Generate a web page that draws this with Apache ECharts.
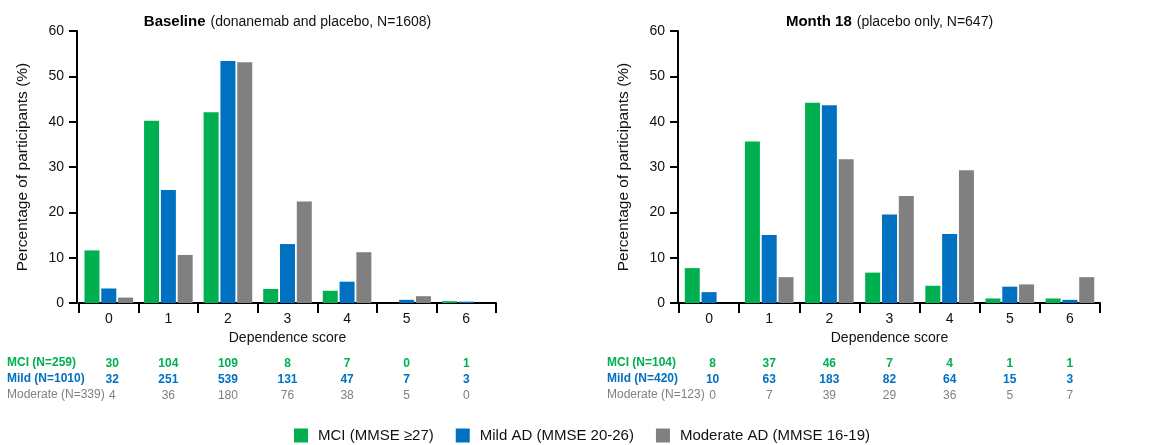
<!DOCTYPE html>
<html>
<head>
<meta charset="utf-8">
<script src="https://cdn.jsdelivr.net/npm/echarts@6/dist/echarts.min.js"></script>
<style>html,body{margin:0;padding:0;background:#fff;}#c{width:1153px;height:445px;}</style>
</head>
<body>
<div id="c"></div>
<script>
// ---- data ----
const categories = ['0', '1', '2', '3', '4', '5', '6'];
const seriesNames = ['MCI (MMSE \u226527)', 'Mild AD (MMSE 20-26)', 'Moderate AD (MMSE 16-19)'];
const panelTitlesBold = ['Baseline', 'Month 18'];
const panelTitlesNormal = ['(donanemab and placebo, N=1608)', '(placebo only, N=647)'];
const yTicks = [0, 10, 20, 30, 40, 50, 60];

// percentages
const baselineMCI = [11.6, 40.2, 42.1, 3.1, 2.7, 0, 0.4];
const baselineMild = [3.2, 24.9, 53.4, 13.0, 4.7, 0.7, 0.3];
const baselineModerate = [1.2, 10.6, 53.1, 22.4, 11.2, 1.5, 0];
const month18MCI = [7.7, 35.6, 44.2, 6.7, 3.8, 1.0, 1.0];
const month18Mild = [2.4, 15.0, 43.6, 19.5, 15.2, 3.6, 0.7];
const month18Moderate = [0, 5.7, 31.7, 23.6, 29.3, 4.1, 5.7];

// participant counts table
const baselineRowLabels = ['MCI (N=259)', 'Mild (N=1010)', 'Moderate (N=339)'];
const baselineCountsMCI = [30, 104, 109, 8, 7, 0, 1];
const baselineCountsMild = [32, 251, 539, 131, 47, 7, 3];
const baselineCountsModerate = [4, 36, 180, 76, 38, 5, 0];
const month18RowLabels = ['MCI (N=104)', 'Mild (N=420)', 'Moderate (N=123)'];
const month18CountsMCI = [8, 37, 46, 7, 4, 1, 1];
const month18CountsMild = [10, 63, 183, 82, 64, 15, 3];
const month18CountsModerate = [0, 7, 39, 29, 36, 5, 7];

// ---- styling ----
const FONT = '"Liberation Sans", Arial, Helvetica, sans-serif';
const colors = ['#00B050', '#0070C0', '#808080'];
const rowWeights = ['bold', 'bold', 'normal'];

const grids = [
  { left: 79, top: 31, width: 417, height: 272 },
  { left: 679, top: 31, width: 421, height: 272 }
];
const yOffsets = [2, 1];
const rowLabelX = [7, 607];
const rowOffsets = [61, 77, 93];

const panels = [
  { values: [baselineMCI, baselineMild, baselineModerate],
    counts: [baselineCountsMCI, baselineCountsMild, baselineCountsModerate],
    rowLabels: baselineRowLabels },
  { values: [month18MCI, month18Mild, month18Moderate],
    counts: [month18CountsMCI, month18CountsMild, month18CountsModerate],
    rowLabels: month18RowLabels }
];

const xAxes = [], yAxes = [], series = [], titles = [], graphics = [];
panels.forEach((p, gi) => {
  const g = grids[gi];
  const mainIndex = xAxes.length;
  xAxes.push({
    type: 'category', gridIndex: gi, data: categories, position: 'bottom',
    name: 'Dependence score', nameLocation: 'middle', nameGap: 28,
    nameTextStyle: { fontFamily: FONT, fontSize: 14, color: '#111' },
    axisLine: { show: true, lineStyle: { color: '#000', width: 2 } },
    axisTick: { show: true, length: 10, lineStyle: { color: '#000', width: 2 } },
    axisLabel: { fontFamily: FONT, fontSize: 14, color: '#111', margin: 9 },
    splitLine: { show: false }
  });
  p.counts.forEach((cnt, ri) => {
    xAxes.push({
      type: 'category', gridIndex: gi, data: categories, position: 'bottom',
      offset: rowOffsets[ri],
      axisLine: { show: false }, axisTick: { show: false }, splitLine: { show: false },
      axisLabel: {
        margin: 0, verticalAlign: 'middle', interval: 0,
        fontFamily: FONT, fontSize: 12, fontWeight: rowWeights[ri], color: colors[ri],
        formatter: (v, i) => i === 0 ? '{f|' + cnt[i] + '}' : String(cnt[i]),
        rich: { f: { padding: [0, 0, 0, 7], fontFamily: FONT, fontSize: 12,
                     fontWeight: rowWeights[ri], color: colors[ri] } }
      }
    });
    graphics.push({
      type: 'text', left: rowLabelX[gi], top: g.top + g.height + rowOffsets[ri] - 7,
      style: { text: p.rowLabels[ri], fill: colors[ri], font: rowWeights[ri] + ' 12px ' + FONT }
    });
  });
  yAxes.push({
    type: 'value', gridIndex: gi, min: 0, max: 60, interval: 10, offset: yOffsets[gi],
    name: 'Percentage of participants (%)', nameLocation: 'middle', nameGap: 46,
    nameTextStyle: { fontFamily: FONT, fontSize: 15.5, color: '#111' },
    axisLine: { show: true, lineStyle: { color: '#000', width: 2 } },
    axisTick: { show: true, length: 8, lineStyle: { color: '#000', width: 2 } },
    axisLabel: { fontFamily: FONT, fontSize: 14, color: '#111', margin: 13,
      formatter: v => yTicks.includes(v) ? String(v) : '' },
    splitLine: { show: false }
  });
  p.values.forEach((vals, si) => {
    series.push({
      type: 'bar', name: seriesNames[si], xAxisIndex: mainIndex, yAxisIndex: gi,
      data: vals, barWidth: 15, barGap: '12%',
      itemStyle: { color: colors[si] }, emphasis: { disabled: true }
    });
  });
  titles.push({
    text: '{b|' + panelTitlesBold[gi] + '} {n|' + panelTitlesNormal[gi] + '}',
    left: g.left + g.width / 2, textAlign: 'center', top: 13, padding: 0,
    textStyle: { rich: {
      b: { fontFamily: FONT, fontSize: 15, fontWeight: 'bold', color: '#000' },
      n: { fontFamily: FONT, fontSize: 14, fontWeight: 'normal', color: '#111' }
    } }
  });
});

const chart = echarts.init(document.getElementById('c'), null, { renderer: 'canvas' });
chart.setOption({
  animation: false,
  backgroundColor: '#fff',
  title: titles,
  grid: grids,
  xAxis: xAxes,
  yAxis: yAxes,
  series: series,
  graphic: graphics,
  legend: {
    data: seriesNames, left: 294, top: 428, padding: 0, itemWidth: 14, itemHeight: 14, itemGap: 22,
    icon: 'rect', selectedMode: false,
    textStyle: { fontFamily: FONT, fontSize: 15, color: '#111', padding: [0, 0, 0, 5] }
  },
  tooltip: { show: false }
});
</script>
</body>
</html>
